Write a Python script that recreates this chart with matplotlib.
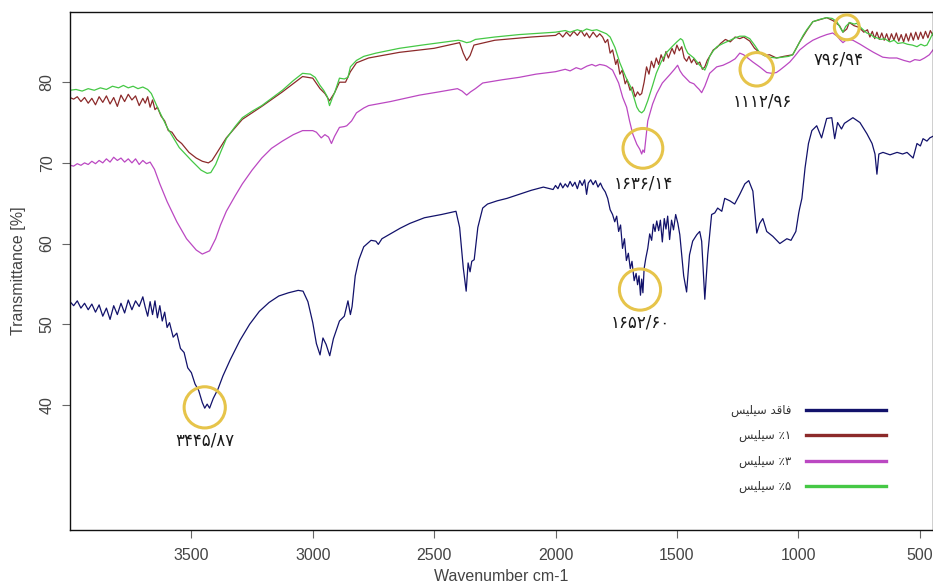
import numpy as np
import matplotlib
matplotlib.use("Agg")
import matplotlib.pyplot as plt
from matplotlib.lines import Line2D

# FTIR spectra, (wavenumber cm-1, transmittance %)
spec_none = [
    (4000, 52.8), (3985, 52.3), (3970, 52.9), (3955, 52.0), (3940, 52.6), (3925, 51.8),
    (3910, 52.5), (3895, 51.5), (3880, 52.4), (3865, 51.0), (3850, 52.0), (3835, 50.6),
    (3820, 52.3), (3805, 51.2), (3790, 52.6), (3775, 51.4), (3760, 53.0), (3745, 51.8),
    (3730, 52.9), (3715, 52.2), (3700, 53.4), (3690, 52.1), (3680, 51.0), (3670, 52.8),
    (3660, 51.2), (3650, 52.9), (3640, 50.8), (3630, 52.3), (3620, 50.4), (3610, 51.5),
    (3600, 49.6), (3590, 50.2), (3575, 48.4), (3560, 48.9), (3545, 47.0), (3530, 46.5),
    (3515, 44.6), (3500, 44.0), (3485, 42.6), (3470, 41.8), (3455, 40.3), (3445, 39.6),
    (3435, 40.1), (3425, 39.6), (3410, 40.8), (3390, 42.0), (3370, 43.6), (3340, 45.6),
    (3300, 48.0), (3260, 50.0), (3220, 51.6), (3180, 52.7), (3140, 53.5), (3100, 53.9),
    (3060, 54.2), (3040, 54.1), (3020, 52.8), (3000, 50.2), (2985, 47.6), (2970, 46.2),
    (2958, 48.3), (2945, 47.5), (2930, 46.1), (2915, 48.2), (2890, 50.4), (2870, 51.0),
    (2855, 52.9), (2845, 51.2), (2838, 52.2), (2825, 56.0), (2810, 58.0), (2790, 59.6),
    (2760, 60.4), (2740, 60.3), (2730, 59.9), (2715, 60.6), (2680, 61.2), (2640, 61.9),
    (2600, 62.5), (2540, 63.2), (2470, 63.6), (2410, 64.0), (2395, 62.0), (2380, 57.0),
    (2368, 54.1), (2360, 57.6), (2352, 56.5), (2345, 57.8), (2335, 58.0), (2320, 62.0),
    (2300, 64.4), (2280, 64.9), (2240, 65.3), (2200, 65.6), (2150, 66.1), (2100, 66.6),
    (2050, 67.0), (2010, 66.7), (2000, 67.2), (1990, 66.8), (1980, 67.5), (1970, 66.9),
    (1960, 67.4), (1950, 67.0), (1940, 67.7), (1930, 67.1), (1920, 67.6), (1910, 66.8),
    (1900, 67.8), (1890, 67.2), (1880, 67.9), (1872, 66.1), (1865, 67.5), (1855, 67.9),
    (1845, 67.3), (1835, 67.8), (1825, 67.0), (1815, 67.5), (1806, 66.9), (1795, 66.4),
    (1785, 65.6), (1775, 64.2), (1765, 63.6), (1756, 62.7), (1748, 63.4), (1740, 61.5),
    (1732, 62.3), (1724, 59.4), (1716, 60.6), (1708, 57.9), (1700, 58.8), (1692, 56.9),
    (1685, 57.8), (1676, 55.4), (1668, 56.3), (1662, 54.9), (1656, 56.0), (1650, 53.6),
    (1645, 55.6), (1640, 53.9), (1635, 56.9), (1628, 58.2), (1620, 59.4), (1612, 61.2),
    (1604, 60.4), (1597, 62.4), (1590, 61.5), (1583, 62.8), (1575, 61.6), (1568, 62.9),
    (1560, 60.2), (1552, 63.1), (1545, 61.8), (1538, 63.4), (1530, 60.5), (1522, 62.9),
    (1514, 61.7), (1505, 63.6), (1496, 62.5), (1488, 61.1), (1472, 56.0), (1460, 54.0),
    (1448, 58.6), (1435, 60.3), (1418, 61.1), (1406, 61.5), (1398, 60.3), (1385, 53.1),
    (1373, 58.6), (1357, 63.6), (1344, 63.8), (1332, 64.4), (1315, 64.0), (1303, 65.6),
    (1282, 65.3), (1262, 64.9), (1241, 66.1), (1220, 67.4), (1204, 67.8), (1187, 66.5),
    (1171, 61.3), (1159, 62.5), (1146, 63.1), (1130, 61.5), (1105, 60.9), (1076, 60.0),
    (1047, 60.6), (1030, 60.4), (1010, 61.5), (998, 63.8), (994, 64.4), (985, 65.6),
    (972, 69.4), (958, 72.4), (944, 74.0), (924, 74.6), (904, 73.1), (883, 75.5),
    (862, 75.6), (850, 73.0), (838, 75.0), (822, 74.2), (810, 74.9), (775, 75.6),
    (746, 75.0), (717, 73.6), (696, 72.4), (684, 71.1), (676, 68.6), (668, 71.1),
    (651, 71.3), (622, 71.0), (593, 71.3), (570, 71.1), (552, 71.3), (527, 70.6),
    (511, 72.4), (497, 72.1), (486, 73.0), (470, 72.7), (458, 73.1), (445, 73.3),
]

spec_1 = [
    (4000, 78.1), (3985, 77.9), (3970, 78.2), (3955, 77.6), (3940, 78.1), (3925, 77.4),
    (3910, 78.0), (3895, 77.2), (3880, 78.2), (3865, 77.5), (3850, 78.3), (3835, 77.3),
    (3820, 78.1), (3805, 77.0), (3790, 78.4), (3775, 77.6), (3760, 78.5), (3745, 77.8),
    (3730, 78.3), (3715, 77.1), (3700, 78.0), (3690, 77.4), (3680, 78.2), (3670, 76.9),
    (3660, 77.8), (3650, 76.6), (3640, 76.9), (3625, 75.8), (3610, 75.2), (3595, 74.0),
    (3580, 73.8), (3560, 72.9), (3540, 72.4), (3510, 71.3), (3480, 70.6), (3455, 70.2),
    (3430, 70.0), (3415, 70.3), (3400, 71.0), (3356, 73.1), (3290, 75.4), (3210, 77.0),
    (3125, 78.8), (3042, 80.7), (3000, 80.5), (2970, 79.2), (2950, 78.6), (2931, 77.7),
    (2910, 78.7), (2890, 80.0), (2865, 80.0), (2845, 81.3), (2820, 82.4), (2770, 83.0),
    (2643, 83.7), (2500, 84.2), (2395, 84.9), (2380, 83.6), (2366, 82.7), (2352, 83.3),
    (2336, 84.6), (2250, 85.2), (2100, 85.6), (2000, 85.8), (1985, 86.1), (1970, 85.6),
    (1955, 86.2), (1940, 85.7), (1925, 86.3), (1910, 85.8), (1895, 86.4), (1880, 85.7),
    (1872, 86.1), (1860, 85.5), (1845, 86.2), (1830, 85.6), (1818, 86.0), (1806, 85.6),
    (1795, 84.9), (1785, 85.3), (1775, 83.6), (1765, 84.0), (1752, 82.2), (1745, 82.8),
    (1735, 81.0), (1725, 81.5), (1713, 79.8), (1705, 80.3), (1693, 79.0), (1683, 79.4),
    (1672, 78.2), (1662, 78.8), (1653, 78.4), (1645, 78.6), (1635, 80.0), (1625, 81.9),
    (1615, 81.0), (1605, 82.6), (1595, 81.8), (1585, 83.0), (1575, 82.2), (1565, 83.4),
    (1555, 82.6), (1545, 83.8), (1535, 83.0), (1520, 84.2), (1510, 83.5), (1500, 84.6),
    (1490, 83.9), (1480, 84.4), (1470, 83.0), (1460, 82.6), (1450, 83.2), (1440, 82.4),
    (1430, 82.9), (1418, 82.2), (1406, 82.5), (1395, 81.6), (1385, 81.9), (1375, 82.7),
    (1365, 83.2), (1350, 84.0), (1335, 84.3), (1320, 84.8), (1300, 85.3), (1280, 85.0),
    (1260, 85.6), (1241, 85.4), (1225, 85.6), (1200, 85.1), (1180, 84.2), (1160, 83.7),
    (1140, 83.3), (1118, 83.4), (1090, 83.0), (1060, 83.2), (1023, 83.4), (994, 85.0),
    (965, 86.4), (940, 87.5), (905, 87.8), (883, 88.0), (855, 87.6), (830, 87.0),
    (816, 86.2), (800, 86.6), (790, 87.4), (770, 87.0), (750, 86.8), (730, 86.2),
    (715, 86.5), (705, 85.6), (695, 86.3), (685, 85.4), (676, 86.2), (666, 85.3),
    (656, 86.1), (646, 85.2), (636, 86.0), (626, 85.1), (616, 86.0), (606, 85.2),
    (596, 86.1), (586, 85.1), (576, 85.9), (566, 85.0), (556, 86.0), (546, 85.1),
    (536, 86.1), (526, 85.2), (516, 86.2), (506, 85.3), (496, 86.2), (486, 85.4),
    (476, 86.3), (466, 85.5), (456, 86.4), (445, 85.8),
]

spec_3 = [
    (4000, 69.7), (3985, 69.6), (3970, 69.9), (3955, 69.7), (3940, 70.0), (3925, 69.8),
    (3910, 70.2), (3895, 69.9), (3880, 70.3), (3865, 70.0), (3850, 70.5), (3835, 70.1),
    (3820, 70.7), (3805, 70.3), (3790, 70.6), (3775, 70.1), (3760, 70.5), (3745, 70.0),
    (3730, 70.5), (3715, 69.8), (3700, 70.3), (3685, 69.9), (3670, 70.1), (3652, 69.2),
    (3630, 67.4), (3600, 65.2), (3560, 62.7), (3520, 60.6), (3480, 59.2), (3455, 58.7),
    (3440, 58.9), (3425, 59.1), (3400, 60.6), (3380, 62.3), (3356, 64.0), (3320, 65.9),
    (3290, 67.4), (3250, 69.1), (3210, 70.6), (3170, 71.8), (3125, 72.7), (3080, 73.5),
    (3042, 74.0), (3000, 74.0), (2985, 73.8), (2965, 73.1), (2950, 73.5), (2935, 73.2),
    (2923, 72.4), (2910, 73.3), (2890, 74.4), (2870, 74.5), (2860, 74.6), (2840, 75.2),
    (2820, 76.2), (2790, 76.8), (2770, 77.1), (2680, 77.6), (2560, 78.4), (2480, 78.8),
    (2404, 79.2), (2385, 78.9), (2366, 78.4), (2350, 78.8), (2330, 79.2), (2300, 79.9),
    (2220, 80.3), (2150, 80.6), (2080, 81.0), (2000, 81.3), (1960, 81.6), (1940, 81.4),
    (1915, 81.8), (1895, 81.6), (1870, 82.0), (1850, 82.2), (1835, 82.0), (1818, 82.2),
    (1800, 82.1), (1790, 82.0), (1765, 81.5), (1740, 79.9), (1723, 78.1), (1707, 76.9),
    (1695, 75.2), (1682, 73.6), (1665, 72.3), (1653, 71.7), (1645, 71.1), (1640, 71.6),
    (1634, 71.3), (1620, 75.2), (1600, 77.3), (1583, 78.6), (1560, 79.9), (1530, 80.9),
    (1510, 81.6), (1497, 82.1), (1487, 81.4), (1476, 80.9), (1460, 80.4), (1447, 80.0),
    (1430, 79.8), (1418, 79.4), (1408, 79.1), (1398, 78.7), (1385, 79.5), (1375, 80.3),
    (1365, 81.1), (1336, 81.9), (1310, 82.1), (1282, 82.5), (1260, 82.9), (1241, 83.6),
    (1225, 83.4), (1212, 83.1), (1187, 82.5), (1159, 81.9), (1130, 81.2), (1110, 81.1),
    (1090, 81.2), (1076, 81.5), (1055, 82.0), (1035, 82.5), (1015, 83.2), (994, 84.0),
    (965, 84.7), (940, 85.2), (910, 85.6), (883, 85.9), (858, 86.1), (840, 85.7),
    (826, 85.2), (816, 84.9), (800, 85.3), (775, 85.2), (745, 84.7), (718, 84.2),
    (690, 83.7), (652, 83.1), (625, 83.0), (594, 83.0), (565, 82.7), (540, 82.5),
    (520, 82.8), (499, 82.7), (480, 83.0), (460, 83.4), (445, 84.0),
]

spec_5 = [
    (4000, 79.0), (3975, 79.1), (3950, 78.9), (3925, 79.2), (3900, 79.0), (3875, 79.3),
    (3850, 79.1), (3825, 79.5), (3800, 79.3), (3780, 79.6), (3760, 79.3), (3740, 79.5),
    (3720, 79.2), (3700, 79.4), (3680, 79.1), (3665, 78.6), (3640, 76.9), (3600, 74.4),
    (3550, 71.9), (3500, 70.3), (3460, 69.1), (3435, 68.7), (3420, 68.8), (3400, 69.8),
    (3380, 71.3), (3356, 73.0), (3320, 74.5), (3290, 75.6), (3250, 76.4), (3210, 77.1),
    (3170, 78.0), (3125, 79.0), (3080, 80.2), (3042, 81.1), (3010, 81.0), (2990, 80.6),
    (2970, 79.6), (2955, 79.0), (2940, 78.2), (2931, 77.1), (2920, 78.0), (2910, 78.7),
    (2890, 80.5), (2870, 80.4), (2855, 80.6), (2845, 81.9), (2820, 82.7), (2790, 83.2),
    (2740, 83.6), (2643, 84.2), (2550, 84.6), (2450, 85.0), (2400, 85.2), (2385, 85.1),
    (2366, 84.9), (2350, 85.0), (2330, 85.3), (2250, 85.6), (2150, 85.9), (2050, 86.1),
    (2000, 86.2), (1960, 86.4), (1940, 86.2), (1910, 86.5), (1890, 86.3), (1872, 86.6),
    (1850, 86.4), (1830, 86.5), (1806, 86.2), (1790, 86.0), (1775, 85.6), (1755, 84.3),
    (1735, 82.4), (1710, 80.6), (1690, 79.4), (1665, 76.9), (1655, 76.4), (1645, 76.2),
    (1635, 76.5), (1620, 77.7), (1600, 79.6), (1585, 81.1), (1565, 82.5), (1545, 83.6),
    (1520, 84.4), (1500, 85.0), (1485, 85.4), (1476, 85.2), (1465, 84.2), (1455, 83.6),
    (1430, 83.0), (1406, 82.1), (1385, 81.5), (1375, 82.2), (1365, 83.2), (1350, 83.9),
    (1335, 84.4), (1310, 84.8), (1280, 85.2), (1260, 85.5), (1241, 85.7), (1220, 85.7),
    (1200, 85.4), (1180, 84.6), (1160, 83.7), (1140, 83.3), (1118, 83.1), (1090, 83.0),
    (1064, 83.1), (1040, 83.2), (1023, 83.4), (1008, 84.2), (994, 85.0), (980, 85.8),
    (965, 86.5), (940, 87.5), (910, 87.8), (883, 88.0), (860, 87.9), (841, 87.5),
    (828, 86.8), (816, 86.2), (805, 86.9), (788, 87.4), (770, 87.2), (759, 87.3),
    (740, 86.7), (718, 86.1), (700, 85.9), (690, 85.6), (676, 85.5), (660, 85.3),
    (645, 85.4), (623, 85.0), (605, 85.2), (590, 84.8), (569, 84.9), (550, 84.7),
    (530, 84.6), (511, 84.4), (495, 84.7), (480, 84.5), (470, 84.6), (458, 85.3),
    (445, 86.1),
]

series_labels = ["فاقد سیلیس", "٪۱ سیلیس", "٪۳ سیلیس", "٪۵ سیلیس"]
series_colors = ["#12126b", "#8c2a2a", "#bb48c2", "#45c845"]

# marked peaks: wavenumber, transmittance, label
peak_wn = [3445, 1640, 1652, 1171, 800]
peak_t = [39.7, 71.8, 54.3, 81.6, 86.8]
peak_labels = ["۳۴۴۵/۸۷", "۱۶۳۶/۱۴", "۱۶۵۲/۶۰", "۱۱۱۲/۹۶", "۷۹۶/۹۴"]
peak_size = [880, 820, 880, 580, 320]
peak_offset = [(0, -24), (0, -25), (0, -24), (4, -23), (-6, -23)]

x_ticks = [3500, 3000, 2500, 2000, 1500, 1000, 500]
y_ticks = [40, 50, 60, 70, 80]

# minimal Persian shaping (matplotlib has no bidi/shaping)
FORMS = {
    "\u0633": "\ufeb1\ufeb2\ufeb3\ufeb4",  # seen
    "\u06cc": "\ufbfc\ufbfd\ufef3\ufef4",  # farsi yeh
    "\u0644": "\ufedd\ufede\ufedf\ufee0",  # lam
    "\u0641": "\ufed1\ufed2\ufed3\ufed4",  # feh
    "\u0642": "\ufed5\ufed6\ufed7\ufed8",  # qaf
    "\u0627": "\ufe8d\ufe8e",              # alef
    "\u062f": "\ufea9\ufeaa",              # dal
}


def shape_word(word):
    out = []
    for i, ch in enumerate(word):
        f = FORMS.get(ch)
        if f is None:
            out.append(ch)
            continue
        prev = word[i - 1] if i > 0 else ""
        nxt = word[i + 1] if i + 1 < len(word) else ""
        back = prev in FORMS and len(FORMS[prev]) == 4
        fwd = nxt in FORMS and len(f) == 4
        out.append(f[int(back) + 2 * int(fwd)])
    return "".join(out)[::-1]


def visual(text):
    toks = text.split()
    return " ".join(shape_word(t) if any(c in FORMS for c in t) else t
                    for t in reversed(toks))


fig = plt.figure(figsize=(9.33, 5.87), dpi=100)
ax = fig.add_axes([70 / 933, 57 / 587, 863 / 933, 518 / 587])

handles = []
for spec, col, lab in zip([spec_none, spec_1, spec_3, spec_5], series_colors, series_labels):
    arr = np.array(spec)
    ax.plot(arr[:, 0], arr[:, 1], color=col, lw=0.9)
    handles.append(Line2D([], [], color=col, lw=2.4, label=visual(lab)))

ax.scatter(peak_wn, peak_t, s=peak_size, facecolors="none", edgecolors="#e6c44a",
           linewidths=2.2, zorder=5)
for w, t, lab, off in zip(peak_wn, peak_t, peak_labels, peak_offset):
    ax.annotate(lab, (w, t), xytext=off, textcoords="offset points",
                ha="center", va="center", fontsize=12,
                color="#1a1a1a", family="DejaVu Sans")

ax.set_xlim(4000, 445)
ax.set_ylim(24.5, 88.7)
ax.set_xticks(x_ticks)
ax.set_yticks(y_ticks)

tick_font = {"family": ["Liberation Sans", "DejaVu Sans"], "size": 11.5}
ax.set_xticklabels([str(v) for v in x_ticks], fontdict=tick_font, color="#444444")
ax.set_yticklabels([str(v) for v in y_ticks], fontdict=tick_font, color="#444444",
                   rotation=90, va="center")
ax.tick_params(length=6, width=0.8, color="#666666")
ax.tick_params(axis="x", pad=7)
ax.tick_params(axis="y", pad=5)
ax.set_xlabel("Wavenumber cm-1", fontdict=tick_font, color="#444444", labelpad=4)
ax.set_ylabel("Transmittance [%]", fontdict=tick_font, color="#444444", labelpad=10)
for sp in ax.spines.values():
    sp.set_linewidth(1.0)
    sp.set_color("#111111")

leg = ax.legend(handles=handles, loc="upper left", bbox_to_anchor=(0.754, 0.264),
                frameon=False, markerfirst=False, handlelength=6.8,
                handletextpad=1.2, labelspacing=1.05,
                prop={"family": "DejaVu Sans", "size": 8.5})
for t in leg.get_texts():
    t.set_color("#333333")

fig.savefig("out.png", dpi=100)
